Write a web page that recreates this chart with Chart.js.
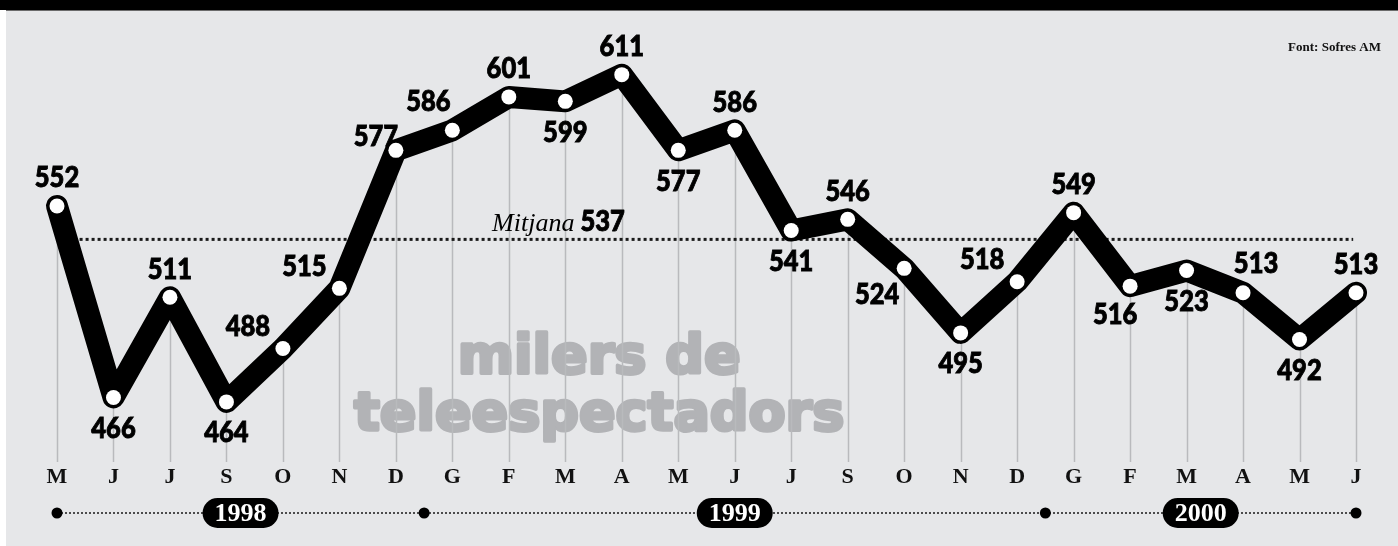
<!DOCTYPE html>
<html>
<head>
<meta charset="utf-8">
<script src="https://cdn.jsdelivr.net/npm/chart.js@4/dist/chart.umd.min.js"></script>
<style>
    html, body { margin: 0; padding: 0; background: #ffffff; }
    #wrap { width: 1398px; height: 546px; position: relative; }
</style>
</head>
<body>
<div id="wrap"><canvas id="audienceChart"></canvas></div>
<script>
// ================================
// Audiència mensual (milers de teleespectadors)
// ================================

const months = ["M", "J", "J", "S", "O", "N", "D", "G", "F", "M", "A", "M",
                "J", "J", "S", "O", "N", "D", "G", "F", "M", "A", "M", "J"];

const viewers = [552, 466, 511, 464, 488, 515, 577, 586, 601, 599, 611, 577,
                 586, 541, 546, 524, 495, 518, 549, 516, 523, 513, 492, 513];

const average = 537;

const years = ["1998", "1999", "2000"];

// where each value label sits around its point
const labelSpots = ["n", "s", "n", "s", "nw", "nw", "d", "nnw", "n", "s", "n", "s",
                    "n", "s", "n", "sw", "s", "nw", "n", "ssw", "s", "ne", "s", "n"];

const spotOffsets = {
    n: [0, -28], s: [0, 31], nw: [-35, -22], nnw: [-24, -29],
    d: [-20, -14], sw: [-27, 26], ssw: [-15, 29], ne: [13, -29]
};

const BG = "#e6e7e9";
const LABEL_FONT = "900 29px Lato";
const SERIF_BOLD = "'Liberation Serif', 'DejaVu Serif', serif";

// draw narrow, slightly heavier text
function squeezed(ctx, text, x, y, sx) {
    ctx.save();
    ctx.translate(x, y);
    ctx.scale(sx, 1);
    ctx.lineWidth = 0.9;
    ctx.strokeStyle = ctx.fillStyle;
    ctx.strokeText(text, 0, 0);
    ctx.fillText(text, 0, 0);
    ctx.restore();
}

const decorations = {

    id: "decorations",

    beforeDraw(chart) {
        const c = chart.ctx;
        c.save();
        c.fillStyle = "#ffffff";
        c.fillRect(0, 0, chart.width, chart.height);
        c.fillStyle = BG;
        c.fillRect(6, 10, chart.width - 6, chart.height - 10);
        c.fillStyle = "#000000";
        c.fillRect(0, 0, chart.width, 10);
        c.fillStyle = "#6b6b6b";
        c.fillRect(6, 10, chart.width - 6, 1);
        c.restore();
    },

    beforeDatasetsDraw(chart) {
        const c = chart.ctx;
        const x = chart.scales.x;
        const y = chart.scales.y;
        const area = chart.chartArea;

        c.save();

        // watermark
        c.fillStyle = "#b2b3b6";
        c.strokeStyle = "#b2b3b6";
        c.lineWidth = 3.5;
        c.lineJoin = "round";
        c.textAlign = "center";
        c.textBaseline = "alphabetic";
        c.font = "bold 54px 'DejaVu Sans'";
        const wx = x.getPixelForValue(9.6);
        c.strokeText("milers de", wx, 373);
        c.fillText("milers de", wx, 373);
        c.strokeText("teleespectadors", wx, 430);
        c.fillText("teleespectadors", wx, 430);

        // drop lines from every point
        c.strokeStyle = "#b9babd";
        c.lineWidth = 1.5;
        viewers.forEach((v, i) => {
            const px = Math.round(x.getPixelForValue(i)) + 0.5;
            c.beginPath();
            c.moveTo(px, y.getPixelForValue(v));
            c.lineTo(px, area.bottom);
            c.stroke();
        });

        // average line
        const ay = y.getPixelForValue(average);
        c.strokeStyle = "#1a1a1a";
        c.lineWidth = 3;
        c.setLineDash([3, 3]);
        c.beginPath();
        c.moveTo(x.getPixelForValue(0.4), ay);
        c.lineTo(x.getPixelForValue(22.95), ay);
        c.stroke();
        c.setLineDash([]);

        // average label
        c.fillStyle = "#000000";
        c.textBaseline = "alphabetic";
        const rx = x.getPixelForValue(10) + 3;
        c.font = LABEL_FONT;
        c.textAlign = "right";
        const numW = c.measureText(String(average)).width * 0.88;
        squeezed(c, String(average), rx, ay - 8, 0.88);
        c.font = "italic 26px 'Liberation Serif'";
        c.fillText("Mitjana", rx - numW - 6, ay - 8);

        c.restore();
    },

    afterDatasetsDraw(chart) {
        const c = chart.ctx;
        const x = chart.scales.x;
        const y = chart.scales.y;

        c.save();

        // value labels
        c.fillStyle = "#000000";
        c.font = LABEL_FONT;
        c.textAlign = "center";
        c.textBaseline = "middle";
        viewers.forEach((v, i) => {
            const off = spotOffsets[labelSpots[i]];
            squeezed(c, String(v), x.getPixelForValue(i) + off[0], y.getPixelForValue(v) + off[1], 0.88);
        });

        // year row
        const edges = [0];
        months.forEach((m, i) => { if (m === "G") edges.push(i - 0.5); });
        edges.push(months.length - 1);

        const rowY = 513;
        c.strokeStyle = "#1a1a1a";
        c.lineWidth = 1.5;
        c.setLineDash([2, 2]);
        c.beginPath();
        c.moveTo(x.getPixelForValue(edges[0]), rowY);
        c.lineTo(x.getPixelForValue(edges[edges.length - 1]), rowY);
        c.stroke();
        c.setLineDash([]);

        c.fillStyle = "#000000";
        edges.forEach(e => {
            c.beginPath();
            c.arc(x.getPixelForValue(e), rowY, 5.5, 0, Math.PI * 2);
            c.fill();
        });

        years.forEach((yr, i) => {
            const cx = x.getPixelForValue((edges[i] + edges[i + 1]) / 2);
            c.fillStyle = "#000000";
            c.beginPath();
            c.roundRect(cx - 38, rowY - 15, 76, 30, 15);
            c.fill();
            c.fillStyle = "#ffffff";
            c.font = "bold 26px " + SERIF_BOLD;
            c.textAlign = "center";
            c.textBaseline = "middle";
            c.fillText(yr, cx, rowY + 1);
        });

        // source
        c.fillStyle = "#111111";
        c.font = "bold 13px " + SERIF_BOLD;
        c.textAlign = "right";
        c.textBaseline = "middle";
        c.fillText("Font: Sofres AM", 1381, 48);

        c.restore();
    }
};

const ctx = document.getElementById("audienceChart");

new Chart(ctx, {

    type: "line",

    data: {
        labels: months,
        datasets: [{
            data: viewers,
            borderColor: "#000000",
            borderWidth: 22,
            borderJoinStyle: "round",
            borderCapStyle: "round",
            tension: 0,
            clip: false,
            pointRadius: 7.5,
            pointHoverRadius: 7.5,
            pointBackgroundColor: "#ffffff",
            pointBorderWidth: 0
        }]
    },

    options: {
        responsive: true,
        maintainAspectRatio: false,
        animation: false,
        events: [],
        layout: {
            padding: { left: 57, right: 42, top: 19, bottom: 54 }
        },
        plugins: {
            legend: { display: false },
            tooltip: { enabled: false }
        },
        scales: {
            x: {
                offset: false,
                grid: { display: false, drawTicks: false },
                border: { display: false },
                ticks: {
                    autoSkip: false,
                    maxRotation: 0,
                    padding: 2,
                    color: "#111111",
                    font: { family: SERIF_BOLD, size: 22, weight: "bold" }
                },
                afterFit(scale) { scale.height = 30; }
            },
            y: {
                display: false,
                min: 437,
                max: 636
            }
        }
    },

    plugins: [decorations]

});
</script>
</body>
</html>
